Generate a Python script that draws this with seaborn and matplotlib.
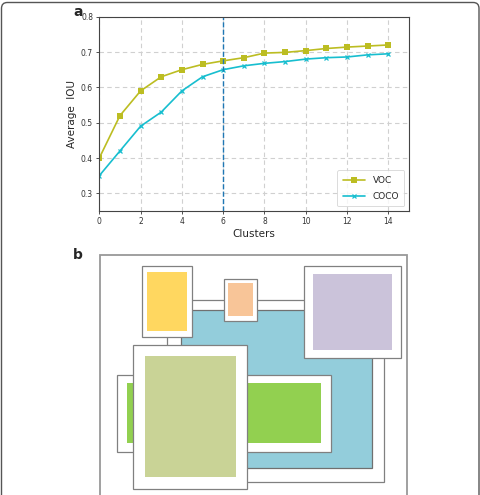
import numpy as np
import pandas as pd
import matplotlib
matplotlib.use('Agg')
import matplotlib.pyplot as plt
from matplotlib.patches import Rectangle, FancyBboxPatch
import seaborn as sns

# panel a data
clusters = list(range(15))
voc_iou = [0.40, 0.52, 0.59, 0.63, 0.65, 0.665, 0.675, 0.684, 0.697, 0.699,
           0.704, 0.710, 0.714, 0.717, 0.720]
coco_iou = [0.35, 0.42, 0.49, 0.53, 0.59, 0.63, 0.65, 0.661, 0.668, 0.673,
            0.680, 0.684, 0.686, 0.692, 0.695]
chosen_k = 6

# panel b boxes (x0, y0, x1, y1 in pixel space, drawn in this order)
box_names = ['frame', 'blue', 'yellow', 'orange', 'purple', 'green', 'olive']
box_outer = [(166.7, 300, 384, 481.7), None, (141.7, 266, 191.7, 337.3),
             (224.3, 278.7, 257.3, 320.7), (304.3, 266, 400.7, 358.3),
             (116.7, 375, 331, 452), (133.3, 344.7, 247.3, 489)]
box_inner = [None, (180.7, 310, 372.3, 468.3), (146.7, 272, 186.7, 331),
             (228.3, 282.7, 252.7, 316), (312.7, 274.3, 392.3, 349.7),
             (127.3, 382.7, 320.7, 443.3), (145, 356, 235.7, 476.7)]
box_colors = [None, '#93cddb', '#ffd760', '#f8c598', '#cbc3da', '#92d050', '#c9d396']

sns.set_theme(style='ticks')
plt.rcParams['font.family'] = ['DejaVu Sans']

W, H = 481, 495
fig = plt.figure(figsize=(W / 100, H / 100), dpi=100)

# rounded page border
fig.patches.append(FancyBboxPatch((1.5 / W, -0.1), (W - 3.5) / W, 1.1 - 2.5 / H,
                                  boxstyle='round,pad=0,rounding_size=0.012',
                                  transform=fig.transFigure, fill=False,
                                  edgecolor='#555555', linewidth=1.0))

# ---- panel a ----
ax = fig.add_axes([99.3 / W, 1 - 211 / H, 309.7 / W, 194.3 / H])
df = pd.DataFrame({'Clusters': clusters * 2,
                   'IOU': voc_iou + coco_iou,
                   'set': ['VOC'] * 15 + ['COCO'] * 15})
sns.lineplot(data=df[df['set'] == 'VOC'], x='Clusters', y='IOU', ax=ax,
             color='#bcbd22', marker='s', markersize=4.5, markeredgewidth=0,
             linewidth=1.2, label='VOC')
sns.lineplot(data=df[df['set'] == 'COCO'], x='Clusters', y='IOU', ax=ax,
             color='#17becf', marker='x', markersize=3.5, markeredgewidth=0.9,
             markeredgecolor='#17becf', linewidth=1.2, label='COCO')
ax.axvline(chosen_k, color='#1f77b4', linestyle='--', linewidth=1.0)

ax.set_xlim(0, 15)
ax.set_ylim(0.25, 0.8)
ax.set_xticks(range(0, 15, 2))
ax.set_yticks([0.3, 0.4, 0.5, 0.6, 0.7, 0.8])
ax.grid(True, linestyle=(0, (4, 3)), color='#d0d0d0', linewidth=0.8)
ax.tick_params(labelsize=5.5, length=2.5, width=0.6, pad=2, colors='#333333')
for s in ax.spines.values():
    s.set_color('#444444')
    s.set_linewidth(0.8)
ax.set_xlabel('Clusters', fontsize=7.5, labelpad=2)
ax.set_ylabel('Average  IOU', fontsize=7.5, labelpad=3)
leg = ax.legend(loc='lower right', fontsize=6.5, frameon=True, handlelength=2.5,
                borderpad=0.6, labelspacing=0.8)
leg.get_frame().set_edgecolor('#cccccc')
leg.get_frame().set_linewidth(0.6)

fig.text(73 / W, 1 - 12 / H, 'a', fontsize=10, fontweight='bold', va='center', ha='left')
fig.text(73 / W, 1 - 255 / H, 'b', fontsize=10, fontweight='bold', va='center', ha='left')

# ---- panel b ----
axb = fig.add_axes([0, 0, 1, 250 / H])
axb.set_xlim(0, W)
axb.set_ylim(H, H - 250)
axb.axis('off')
axb.add_patch(Rectangle((100, 254.7), 307.3, 260, facecolor='white',
                        edgecolor='#999999', linewidth=1.3))
for outer, inner, c in zip(box_outer, box_inner, box_colors):
    if outer is not None:
        axb.add_patch(Rectangle((outer[0], outer[1]), outer[2] - outer[0], outer[3] - outer[1],
                                facecolor='white', edgecolor='#808080', linewidth=0.9))
    if inner is not None:
        ec = '#707070' if outer is None else 'none'
        axb.add_patch(Rectangle((inner[0], inner[1]), inner[2] - inner[0], inner[3] - inner[1],
                                facecolor=c, edgecolor=ec, linewidth=0.9))

fig.savefig('out.png', dpi=100)
